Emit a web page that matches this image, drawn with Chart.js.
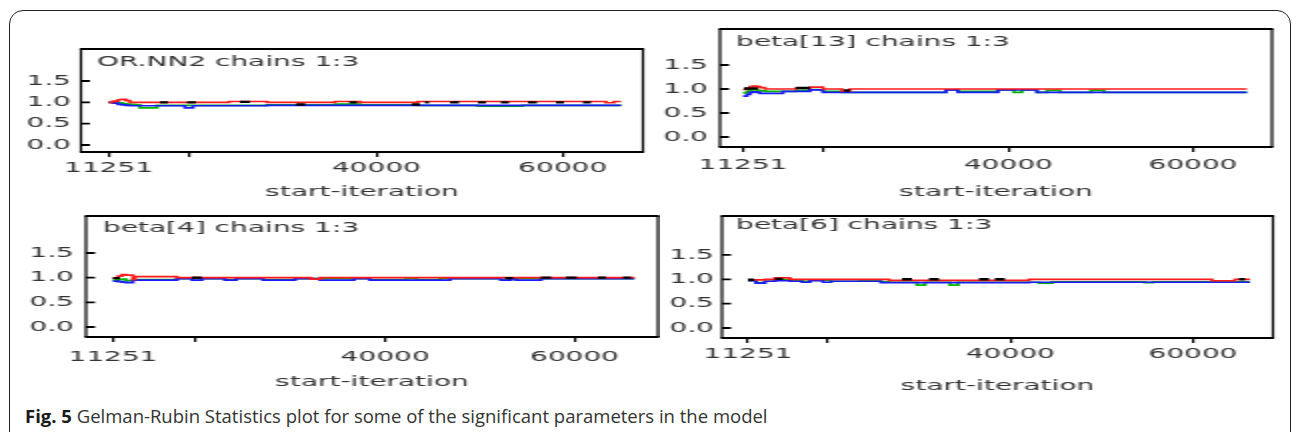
<!DOCTYPE html>
<html><head><meta charset="utf-8">
<script src="https://cdn.jsdelivr.net/npm/chart.js@4.4.1/dist/chart.umd.min.js"></script>
<style>
html,body{margin:0;padding:0;background:#fff;width:1292px;height:432px;overflow:hidden;position:relative;}
.frame{position:absolute;left:9px;top:10px;width:1282px;height:470px;border:1.5px solid #222;border-radius:14px;box-sizing:border-box;}
.panel{position:absolute;transform-origin:0 0;transform:scaleX(2);}
.panel canvas{display:block;}
.caption{position:absolute;left:25px;top:407px;font-family:"Open Sans";font-size:18.5px;line-height:18.5px;color:#333;white-space:nowrap;}
.caption b{color:#1a1a1a;}
</style></head><body>
<div class="frame"></div>
<div class="panel" style="left:0px;top:0px"><canvas id="c1" width="330" height="201"></canvas></div>
<div class="panel" style="left:660px;top:0px"><canvas id="c2" width="316" height="201"></canvas></div>
<div class="panel" style="left:0px;top:200px"><canvas id="c3" width="330" height="191"></canvas></div>
<div class="panel" style="left:660px;top:200px"><canvas id="c4" width="316" height="195"></canvas></div>
<div class="caption"><b>Fig. 5</b> Gelman-Rubin Statistics plot for some of the significant parameters in the model</div>
<script>
// ---- shared labels ----
const panelTitles = ['OR.NN2 chains 1:3', 'beta[13] chains 1:3', 'beta[4] chains 1:3', 'beta[6] chains 1:3'];
const xAxisTitle = 'start-iteration';
const xTickValues = [11251, 20000, 40000, 60000];
const xTickLabels = ['11251', '', '40000', '60000'];
const yTickValues = [0, 0.5, 1.0, 1.5];
const yTickLabels = ['0.0', '0.5', '1.0', '1.5'];

// ---- panel 1: OR.NN2 ----
const p1Iter  = [11251, 11720, 12260, 12690, 13120, 13550, 14090, 14620, 16450, 16770, 19450, 20310, 24180, 28260, 35560, 38240, 44470, 48970, 50900, 55660, 59710, 64650, 65510, 66270];
const p1Red   = [1.00, 1.03, 1.06, 1.07, 1.04, 1.00, 1.00, 1.00, 1.00, 1.00, 1.00, 1.00, 1.02, 1.00, 1.02, 1.00, 1.02, 1.02, 1.02, 1.02, 1.02, 0.99, 1.02, 1.02];
const p1Green = [1.00, 1.00, 0.99, 0.97, 0.96, 0.95, 0.94, 0.87, 0.93, 0.93, 0.93, 0.93, 0.93, 0.94, 0.96, 0.94, 0.93, 0.93, 0.91, 0.93, 0.93, 0.93, 0.93, 0.93];
const p1Blue  = [1.00, 0.98, 0.95, 0.94, 0.93, 0.92, 0.92, 0.92, 0.92, 0.92, 0.87, 0.92, 0.92, 0.93, 0.93, 0.93, 0.93, 0.93, 0.93, 0.93, 0.93, 0.93, 0.93, 0.93];
const p1BlackStart = [16770, 19670, 25360, 31400, 37090, 43800, 45220, 47900, 50900, 53370, 56270, 59280, 62180];
const p1BlackEnd   = [17630, 20630, 26430, 32370, 37950, 44660, 45650, 48870, 51760, 54230, 57240, 60140, 63030];
const p1BlackY     = [1.00, 1.00, 1.01, 0.95, 1.00, 0.95, 1.00, 1.00, 1.00, 1.00, 1.00, 1.00, 1.00];

// ---- panel 2: beta[13] ----
const p2Iter  = [11251, 11680, 12010, 12330, 12770, 13090, 13630, 15580, 16990, 18510, 19480, 19920, 21980, 22840, 33240, 34540, 38880, 40610, 41470, 43100, 44180, 45590, 48950, 50360, 65850];
const p2Red   = [0.99, 1.01, 1.05, 1.06, 1.05, 1.03, 1.00, 1.00, 1.02, 1.04, 1.04, 1.00, 0.96, 1.00, 1.00, 1.00, 1.00, 1.00, 1.00, 1.00, 1.00, 1.00, 1.00, 1.00, 1.00];
const p2Green = [0.92, 0.95, 0.98, 0.99, 0.97, 0.96, 0.95, 0.95, 0.97, 0.99, 0.98, 0.95, 0.93, 0.93, 0.98, 0.95, 0.98, 0.93, 0.98, 0.93, 0.97, 0.93, 0.97, 0.93, 0.93];
const p2Blue  = [0.85, 0.89, 0.93, 0.94, 0.93, 0.91, 0.91, 0.95, 0.95, 0.98, 0.98, 0.93, 0.93, 0.93, 0.98, 0.93, 0.98, 0.98, 0.98, 0.93, 0.93, 0.93, 0.93, 0.93, 0.93];
const p2BlackStart = [11360, 16990, 22190];
const p2BlackEnd   = [12870, 18510, 22840];
const p2BlackY     = [1.01, 1.02, 0.97];

// ---- panel 3: beta[4] ----
const p3Iter  = [11251, 11780, 12200, 12620, 13360, 13580, 18010, 19600, 20650, 23080, 24240, 27100, 30480, 32170, 33120, 36710, 38400, 42200, 43360, 45790, 46850, 52240, 53290, 53820, 55510, 56460, 66340];
const p3Red   = [0.99, 1.03, 1.06, 1.05, 0.96, 1.02, 1.00, 1.00, 1.00, 1.00, 1.00, 1.00, 1.00, 0.97, 1.00, 1.00, 1.00, 1.00, 1.00, 1.00, 1.00, 1.00, 1.00, 1.00, 1.00, 1.00, 1.00];
const p3Green = [0.95, 0.96, 0.97, 0.94, 0.95, 0.96, 0.98, 0.98, 0.98, 0.96, 0.98, 0.96, 0.98, 0.98, 0.98, 0.98, 0.96, 0.98, 0.96, 0.98, 0.98, 0.95, 0.98, 0.98, 0.98, 0.98, 0.98];
const p3Blue  = [0.93, 0.92, 0.91, 0.90, 0.95, 0.95, 0.98, 0.95, 0.98, 0.95, 0.98, 0.95, 0.98, 0.98, 0.95, 0.98, 0.95, 0.95, 0.95, 0.95, 0.98, 0.95, 0.98, 0.95, 0.95, 0.98, 0.98];
const p3BlackStart = [11251, 19600, 52660, 56460, 59100, 62480, 65120];
const p3BlackEnd   = [11990, 20650, 53500, 57520, 60260, 63330, 65970];
const p3BlackY     = [0.99, 1.00, 0.99, 1.00, 1.00, 1.00, 1.00];

// ---- panel 4: beta[6] ----
const p4Iter  = [11251, 12130, 13110, 14210, 15850, 17170, 18040, 19470, 20340, 23520, 25820, 26700, 29770, 30640, 33380, 34260, 42040, 43130, 44560, 54740, 55620, 62080, 64600, 66250];
const p4Red   = [0.99, 0.99, 1.00, 1.03, 1.00, 1.00, 1.00, 1.00, 1.00, 1.00, 1.00, 0.98, 0.98, 0.98, 0.98, 0.98, 1.00, 1.00, 1.00, 1.00, 1.00, 0.97, 1.00, 1.00];
const p4Green = [0.97, 0.93, 0.96, 0.99, 0.97, 0.96, 0.98, 0.98, 0.96, 0.98, 0.95, 0.94, 0.88, 0.94, 0.88, 0.94, 0.94, 0.92, 0.95, 0.93, 0.95, 0.95, 0.95, 0.95];
const p4Blue  = [0.97, 0.92, 0.96, 0.97, 0.96, 0.94, 0.97, 0.94, 0.96, 0.96, 0.93, 0.93, 0.93, 0.93, 0.93, 0.93, 0.94, 0.94, 0.94, 0.94, 0.94, 0.94, 0.94, 0.94];
const p4BlackStart = [11251, 14210, 28120, 31080, 36560, 38300, 65040];
const p4BlackEnd   = [11910, 15090, 29220, 32180, 37650, 39390, 65700];
const p4BlackY     = [0.99, 1.01, 1.00, 1.00, 1.00, 1.00, 1.00];

// ---- layout (canvas units; panels are stretched 2x horizontally like the source image) ----
const layouts = [
  {id:'c1', padTop:49, padRight:8.5, yWidth:40.5, xHeight:49, xLabelPad:2.6, yLabelPad:5, xMin:8288, xMax:68620, yMin:-0.164, yMax:2.25, dx:8, dy:13},
  {id:'c2', padTop:29, padRight:10, yWidth:30, xHeight:54, xLabelPad:4.6, yLabelPad:6, xMin:8759, xMax:68558, yMin:-0.208, yMax:2.25, dx:8, dy:13},
  {id:'c3', padTop:16, padRight:1, yWidth:43, xHeight:54, xLabelPad:6.6, yLabelPad:6, xMin:8399, xMax:68820, yMin:-0.203, yMax:2.25, dx:8.5, dy:12},
  {id:'c4', padTop:16, padRight:9.5, yWidth:31, xHeight:57, xLabelPad:2.6, yLabelPad:4, xMin:8403, xMax:68764, yMin:-0.205, yMax:2.30, dx:7, dy:9}
];

const panelData = [
  {iter:p1Iter, red:p1Red, green:p1Green, blue:p1Blue, bs:p1BlackStart, be:p1BlackEnd, by:p1BlackY},
  {iter:p2Iter, red:p2Red, green:p2Green, blue:p2Blue, bs:p2BlackStart, be:p2BlackEnd, by:p2BlackY},
  {iter:p3Iter, red:p3Red, green:p3Green, blue:p3Blue, bs:p3BlackStart, be:p3BlackEnd, by:p3BlackY},
  {iter:p4Iter, red:p4Red, green:p4Green, blue:p4Blue, bs:p4BlackStart, be:p4BlackEnd, by:p4BlackY}
];

const FONT = 'DejaVu Sans';
const FSIZE = 14;
const TEXT = '#333';

const framePlugin = {
  id: 'frame',
  afterDraw(chart, args, opts) {
    const ctx = chart.ctx;
    const {left, right, top, bottom} = chart.chartArea;
    const y = chart.scales.y;
    ctx.save();
    ctx.strokeStyle = '#000';
    ctx.lineWidth = 2;
    ctx.beginPath();
    ctx.moveTo(left - 0.6, top); ctx.lineTo(right + 0.6, top);
    ctx.moveTo(left - 0.6, bottom); ctx.lineTo(right + 0.6, bottom);
    ctx.stroke();
    ctx.lineWidth = 1.2;
    ctx.beginPath();
    ctx.moveTo(left, top); ctx.lineTo(left, bottom);
    ctx.moveTo(right, top); ctx.lineTo(right, bottom);
    ctx.stroke();
    ctx.lineWidth = 1.8;
    ctx.beginPath();
    y.ticks.forEach(t => {
      const py = y.getPixelForValue(t.value);
      ctx.moveTo(left, py); ctx.lineTo(left + 4.5, py);
    });
    ctx.stroke();
    ctx.fillStyle = TEXT;
    ctx.font = FSIZE + 'px "' + FONT + '"';
    ctx.textBaseline = 'middle';
    ctx.textAlign = 'left';
    ctx.fillText(opts.text, left + opts.dx, top + opts.dy);
    ctx.restore();
  }
};

function seriesPoints(iter, vals) {
  return iter.map((x, i) => ({x: x, y: vals[i]}));
}
function blackPoints(bs, be, by) {
  const pts = [];
  bs.forEach((s, i) => {
    pts.push({x: s, y: by[i]});
    pts.push({x: be[i], y: by[i]});
    pts.push({x: be[i], y: null});
  });
  return pts;
}

layouts.forEach((L, k) => {
  const D = panelData[k];
  new Chart(document.getElementById(L.id), {
    type: 'line',
    data: {
      datasets: [
        {label:'black', data: blackPoints(D.bs, D.be, D.by), borderColor:'#000', borderWidth:2.4, pointRadius:0, spanGaps:false, order:0},
        {label:'red', data: seriesPoints(D.iter, D.red), borderColor:'#ff1a1a', borderWidth:1.7, pointRadius:0, stepped:'before', order:1},
        {label:'blue', data: seriesPoints(D.iter, D.blue), borderColor:'#1a1aff', borderWidth:1.7, pointRadius:0, stepped:'before', order:2},
        {label:'green', data: seriesPoints(D.iter, D.green), borderColor:'#00b400', borderWidth:1.7, pointRadius:0, stepped:'before', order:3}
      ]
    },
    options: {
      responsive: false,
      animation: false,
      devicePixelRatio: 1,
      events: [],
      layout: {padding: {top: L.padTop, right: L.padRight, left: 0, bottom: 0}},
      plugins: {
        legend: {display: false},
        tooltip: {enabled: false},
        frame: {text: panelTitles[k], dx: L.dx, dy: L.dy}
      },
      scales: {
        x: {
          type: 'linear', position: 'bottom', min: L.xMin, max: L.xMax,
          afterBuildTicks: s => { s.ticks = xTickValues.map(v => ({value: v})); },
          afterFit: s => { s.height = L.xHeight; },
          ticks: {autoSkip: false, maxRotation: 0, padding: L.xLabelPad, color: TEXT,
                  font: {family: FONT, size: FSIZE},
                  callback: (v, i) => xTickLabels[i]},
          grid: {display: true, drawOnChartArea: false, drawTicks: true, tickLength: 5,
                 color: '#000', tickColor: '#000', tickWidth: 1.2, lineWidth: 1.2},
          border: {display: false},
          title: {display: true, text: xAxisTitle, color: TEXT, font: {family: FONT, size: FSIZE}, padding: 0}
        },
        y: {
          type: 'linear', position: 'left', min: L.yMin, max: L.yMax,
          afterBuildTicks: s => { s.ticks = yTickValues.map(v => ({value: v})); },
          afterFit: s => { s.width = L.yWidth; },
          ticks: {padding: L.yLabelPad, color: TEXT, font: {family: FONT, size: FSIZE},
                  callback: (v, i) => yTickLabels[i]},
          grid: {display: false, drawTicks: false},
          border: {display: false}
        }
      }
    },
    plugins: [framePlugin]
  });
});
</script>
</body></html>
